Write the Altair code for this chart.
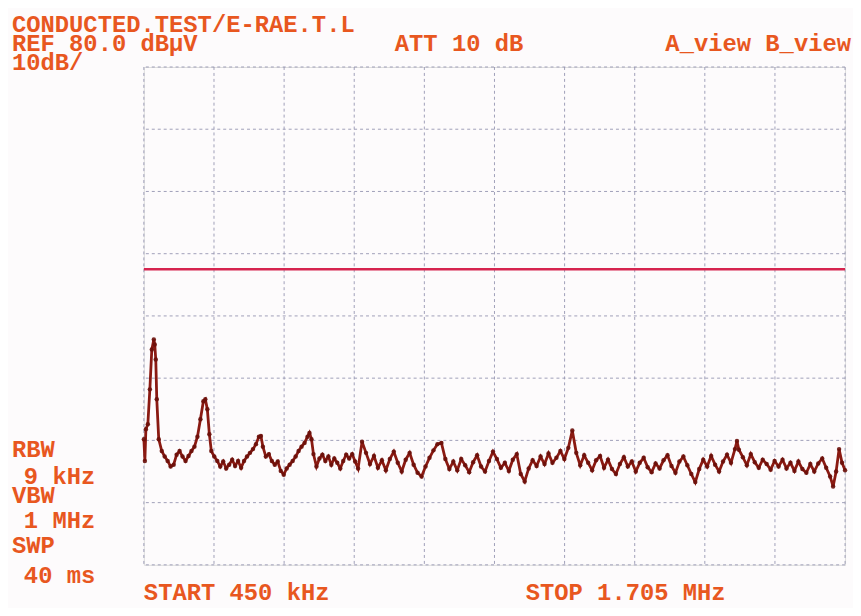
import altair as alt
import pandas as pd

# ---- data ----
freq_khz = [
    450.0, 451.8, 453.6, 457.1, 460.7, 464.2, 467.8, 469.5, 471.3, 473.1,
    476.6, 482.0, 487.3, 492.6, 497.9, 503.3, 508.6, 513.9, 519.2, 524.6,
    529.9, 535.2, 540.5, 545.9, 551.2, 556.5, 560.0, 563.6, 567.2, 570.7,
    576.0, 581.4, 586.7, 592.0, 597.3, 602.7, 608.0, 613.3, 618.6, 624.0,
    629.3, 634.6, 639.9, 645.3, 650.6, 655.9, 659.5, 663.0, 668.3, 673.7,
    679.0, 684.3, 689.6, 695.0, 700.3, 705.6, 710.9, 716.3, 721.6, 726.9,
    732.2, 737.6, 742.9, 746.4, 750.0, 753.5, 758.9, 764.2, 769.5, 774.8,
    780.2, 785.5, 790.8, 796.1, 801.5, 806.8, 812.1, 817.4, 822.8, 828.1,
    833.4,
    840.5, 847.6, 854.7, 861.8, 868.9, 876.0, 883.1, 890.2, 897.3, 904.4,
    911.5, 918.6, 925.7, 932.8, 939.9, 947.0, 954.1, 961.2, 968.3, 975.4,
    982.5, 989.6, 996.7, 1003.8, 1010.9, 1018.0, 1025.1, 1032.2, 1039.3, 1046.4,
    1053.5, 1060.6, 1067.7, 1074.8, 1081.9, 1089.0, 1096.1, 1103.2, 1110.3, 1117.4,
    1124.5, 1131.6, 1138.7, 1145.8, 1152.9, 1160.0, 1167.1, 1174.2, 1181.3, 1188.4,
    1195.5, 1202.6, 1209.7, 1216.8, 1223.9, 1231.0, 1238.1, 1245.2, 1252.3, 1259.4,
    1266.5, 1273.6, 1280.7, 1287.8, 1294.9, 1302.0, 1309.1, 1316.2, 1323.3, 1330.4,
    1337.5, 1344.6, 1351.7, 1358.8, 1365.9, 1373.0, 1380.1, 1387.2, 1394.3, 1401.4,
    1408.5, 1415.6, 1422.7, 1429.8, 1436.9, 1444.0, 1451.1, 1458.2, 1465.3, 1472.4,
    1479.5, 1486.6, 1493.7, 1500.8, 1507.9, 1511.5, 1515.0, 1522.1, 1529.2, 1536.3,
    1543.4, 1550.5, 1557.6, 1564.7, 1571.8, 1578.9, 1586.0, 1593.1, 1600.2, 1607.3,
    1614.4, 1621.5, 1628.6, 1635.7, 1642.8, 1649.9, 1657.0, 1664.1, 1671.2, 1678.3,
    1683.6, 1689.0, 1694.3, 1699.6, 1705.0,
]
level_dbuv = [
    20.2, 16.7, 21.8, 22.6, 28.2, 34.6, 36.2, 35.4, 33.0, 26.6,
    20.2, 18.3, 17.4, 16.7, 15.8, 16.1, 17.7, 18.3, 17.4, 16.7,
    17.5, 18.3, 19.0, 20.6, 23.4, 26.3, 26.6, 25.0, 21.0, 18.3,
    17.4, 16.7, 15.8, 16.6, 15.5, 16.1, 16.9, 15.9, 16.7, 15.6,
    16.7, 17.4, 18.0, 18.6, 19.4, 20.6, 20.7, 19.0, 17.4, 17.8,
    16.7, 16.1, 16.6, 15.1, 14.5, 15.5, 16.1, 16.7, 17.4, 18.3,
    19.0, 19.6, 20.6, 21.2, 20.2, 17.8, 15.8, 17.1, 17.7, 16.7,
    17.4, 16.1, 17.1, 16.4, 15.5, 16.7, 17.7, 17.1, 17.8, 16.6,
    15.5,
    19.8, 18.0, 16.2, 17.5, 15.6, 16.8, 15.2, 17.0, 18.2, 16.4,
    15.0, 16.9, 18.0, 16.1, 14.8, 14.2, 15.8, 17.2, 18.4, 19.4,
    19.6, 17.0, 15.4, 16.6, 15.2, 17.0, 16.0, 14.9, 16.5, 17.6,
    15.8, 15.0, 16.7, 18.2, 17.0, 15.6, 16.4, 15.1, 16.9, 17.8,
    14.6, 13.4, 15.5, 16.8, 15.9, 17.4, 16.2, 17.9, 16.4, 17.2,
    18.3, 17.0, 18.8, 21.6, 18.0, 16.0, 17.6, 16.4, 15.2, 16.8,
    17.5, 15.6, 16.9, 15.4, 14.6, 16.2, 17.3, 15.8, 16.6, 15.0,
    16.4, 17.2, 15.7, 14.9, 16.3, 15.5, 16.8, 17.6, 15.9, 14.8,
    16.6, 17.4, 16.0, 14.6, 13.3, 15.4, 16.9, 15.8, 17.5, 16.1,
    15.0, 16.6, 17.7, 16.4, 18.6, 19.9, 18.5, 17.3, 16.0, 17.8,
    16.5, 15.6, 16.9, 16.2, 15.3, 16.7, 15.8, 16.9, 15.5, 16.4,
    15.1, 16.6, 15.4, 14.8, 16.2, 15.0, 16.3, 17.1, 15.6, 14.2,
    12.6, 15.0, 18.6, 16.4, 15.2,
]
limit_dbuv = [47.5]
x_grid_khz = [450, 575.5, 701, 826.5, 952, 1077.5, 1203, 1328.5, 1454, 1579.5, 1705]
y_grid_db = [0, 10, 20, 30, 40, 50, 60, 70, 80]

header_lines = ["CONDUCTED.TEST/E-RAE.T.L", "REF 80.0 dB\u00b5V", "10dB/"]
att_text = "ATT 10 dB"
view_text = "A_view B_view"
side_lines = ["RBW", "9 kHz", "VBW", "1 MHz", "SWP", "40 ms"]
start_text = "START 450 kHz"
stop_text = "STOP 1.705 MHz"

# ---- styling ----
FONT = "Liberation Mono"
TXT = "#e8571f"
GRID = "#9a9ab4"
TRACE = "#8a1a12"
DOT = "#6a0f0a"
LIMIT = "#d6244e"
FS = 24

df = pd.DataFrame({"f": freq_khz, "lvl": level_dbuv})

xscale = alt.Scale(domain=[450, 1705], nice=False, zero=False)
yscale = alt.Scale(domain=[0, 80], nice=False, zero=True)

vgrid = alt.Chart(pd.DataFrame({"gx": x_grid_khz})).mark_rule(
    color=GRID, strokeWidth=1, strokeDash=[3, 3], opacity=0.95
).encode(x=alt.X("gx:Q", scale=xscale, axis=None))
hgrid = alt.Chart(pd.DataFrame({"gy": y_grid_db})).mark_rule(
    color=GRID, strokeWidth=1, strokeDash=[3, 3], opacity=0.95
).encode(y=alt.Y("gy:Q", scale=yscale, axis=None))

trace = alt.Chart(df).mark_line(color=TRACE, strokeWidth=2.8, interpolate="linear").encode(
    x=alt.X("f:Q", scale=xscale, axis=None),
    y=alt.Y("lvl:Q", scale=yscale, axis=None),
)
dots = alt.Chart(df).mark_circle(color=DOT, size=20, opacity=0.9).encode(
    x=alt.X("f:Q", scale=xscale, axis=None),
    y=alt.Y("lvl:Q", scale=yscale, axis=None),
)
limit = alt.Chart(pd.DataFrame({"lim": limit_dbuv})).mark_rule(color=LIMIT, strokeWidth=2.6).encode(
    y=alt.Y("lim:Q", scale=yscale, axis=None)
)


def label(txt, x, y, align="left", size=FS):
    return alt.Chart(pd.DataFrame({"t": [txt]})).mark_text(
        align=align, baseline="alphabetic", font=FONT, fontWeight="bold",
        fontSize=size, color=TXT,
    ).encode(text="t:N", x=alt.value(x), y=alt.value(y))


labels = [
    label(header_lines[0], -133, -35),
    label(header_lines[1], -133, -16),
    label(header_lines[2], -133, 3),
    label(att_text, 253, -16),
    label(view_text, 713, -16, align="right"),
    label(side_lines[0], -133, 393),
    label(side_lines[1], -121, 420),
    label(side_lines[2], -133, 440),
    label(side_lines[3], -121, 465),
    label(side_lines[4], -133, 490),
    label(side_lines[5], -121, 520),
    label(start_text, 0, 537),
    label(stop_text, 385, 537),
]

chart = alt.layer(hgrid, vgrid, limit, trace, dots, *labels).properties(
    width=707,
    height=502,
    padding={"left": 137, "top": 57, "right": 8, "bottom": 41},
    autosize=alt.AutoSizeParams(type="none"),
).configure_view(stroke=None).configure(background="#fdfbfc")

chart.save("out.html", embed_options={"renderer": "svg", "actions": False})
